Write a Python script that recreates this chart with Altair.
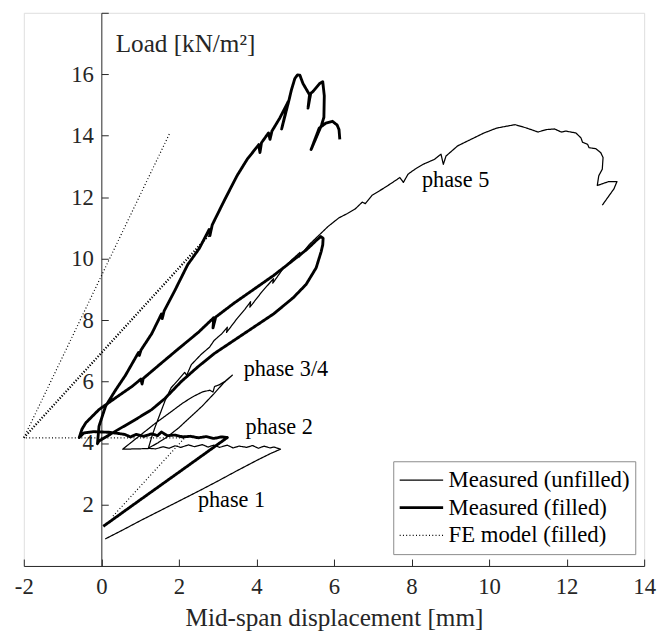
import altair as alt
import pandas as pd

# ---------------- data (x: mid-span displacement [mm], y: load [kN/m2]) ----------------
series_names = ["Measured (unfilled)", "Measured (filled)", "FE model (filled)"]

unf_x = [0.10, 0.55, 1.0, 1.5, 2.0, 2.5, 3.0, 3.5, 4.0, 4.35, 4.62,
         4.45, 4.35, 4.2, 4.05, 3.9, 3.75, 3.55, 3.4, 3.25, 3.05, 2.9, 2.75, 2.6, 2.4, 2.25, 2.05, 1.9, 1.75, 1.6, 1.4, 1.21,
         1.45, 1.7, 2.0, 2.3, 2.6, 2.9, 3.15, 3.38,
         3.2, 3.05, 2.92, 2.88, 2.8, 2.6, 2.35, 2.1, 1.8, 1.4, 1.0, 0.75, 0.55,
         0.9, 1.21,
         1.3, 1.38, 1.5, 1.65, 1.8, 1.98, 2.15, 2.2, 2.32, 2.57, 2.79, 2.91, 3.1, 3.25, 3.23, 3.5, 3.7, 3.85, 3.83,
         4.14, 4.44, 4.42, 4.69, 4.9, 5.12, 5.1, 5.37, 5.62, 5.85, 6.13, 6.35,
         6.55, 6.73, 6.81, 6.98, 7.28, 7.5, 7.70, 7.79, 7.91, 8.1, 8.30, 8.59, 8.76, 8.82, 8.89, 9.19, 9.53, 9.87,
         10.2, 10.67, 10.97, 11.26, 11.48, 11.69, 11.86, 11.98, 12.24, 12.37, 12.41, 12.54, 12.58, 12.75, 12.88,
         12.94, 12.92, 12.83, 12.79, 13.09, 13.3, 13.22, 12.92]
unf_y = [0.88, 1.17, 1.47, 1.79, 2.11, 2.43, 2.76, 3.1, 3.43, 3.65, 3.8,
         3.87, 3.84, 3.9, 3.83, 3.92, 3.86, 3.9, 3.84, 3.93, 3.86, 3.93, 3.87, 3.95, 3.88, 3.94, 3.86, 3.91, 3.83, 3.88, 3.81, 3.83,
         4.0, 4.2, 4.5, 4.85, 5.2, 5.6, 5.95, 6.21,
         6.02, 5.9, 5.84, 5.66, 5.72, 5.66, 5.5, 5.3, 5.02, 4.65, 4.25, 4.0, 3.8,
         3.81, 3.82,
         4.2, 4.5, 4.9, 5.4, 5.8, 6.05, 6.3, 6.2, 6.55, 6.88, 7.12, 7.34, 7.55, 7.77, 7.6, 8.05, 8.35, 8.6, 8.42,
         8.92, 9.35, 9.2, 9.68, 9.95, 10.2, 10.05, 10.47, 10.77, 11.05, 11.33, 11.47,
         11.62, 11.84, 11.79, 12.06, 12.29, 12.47, 12.64, 12.48, 12.75, 12.92, 13.07, 13.23, 13.4, 13.07, 13.34, 13.67, 13.88, 14.09,
         14.25, 14.36, 14.25, 14.12, 14.2, 14.22, 14.12, 14.15, 14.09, 13.93, 13.79, 13.72, 13.61, 13.58, 13.45,
         13.29, 12.91, 12.7, 12.38, 12.51, 12.51, 12.27, 11.74]

fil_x = [0.05, 1.0, 2.0, 3.25,
         3.1, 2.9, 2.7, 2.5, 2.3, 2.1, 1.9, 1.7, 1.55, 1.45, 1.3, 1.1, 0.9, 0.75, 0.6, 0.4, 0.2, 0.0, -0.2, -0.45, -0.57,
         -0.5, -0.4, -0.06, 0.4, 0.8, 1.02, 1.05, 1.08, 1.5, 2.0, 2.5, 2.9, 2.88, 2.95, 3.42, 3.93, 4.44, 4.95, 5.3, 5.55, 5.66, 5.72,
         5.71, 5.67, 5.54, 5.28, 4.95, 4.44, 3.93, 3.42, 2.91, 2.49, 2.06, 1.64, 1.3, 0.9, 0.45, -0.06, -0.1,
         -0.06, 0.11, 0.37, 0.62, 0.96, 0.98, 1.02, 1.3, 1.55, 1.57, 1.62, 1.89, 2.23, 2.53, 2.78, 2.8, 2.86, 3.17, 3.5, 3.76,
         4.06, 4.09, 4.13, 4.31, 4.35, 4.4, 4.6, 4.82, 4.65, 4.84, 4.9, 4.99, 5.06, 5.12, 5.2, 5.37, 5.33, 5.4, 5.46, 5.63,
         5.71, 5.75, 5.74, 5.68, 5.41, 5.62, 5.79, 5.96, 6.08, 6.13, 6.15]
fil_y = [1.29, 2.15, 3.05, 4.18,
         4.2, 4.15, 4.21, 4.17, 4.22, 4.2, 4.26, 4.24, 4.36, 4.24, 4.3, 4.22, 4.28, 4.2, 4.28, 4.32, 4.35, 4.36, 4.37, 4.33, 4.18,
         4.45, 4.66, 5.09, 5.5, 5.85, 6.08, 5.92, 6.1, 6.55, 7.08, 7.6, 8.08, 7.75, 8.1, 8.55, 9.0, 9.45, 9.95, 10.3, 10.6, 10.72, 10.66,
         10.45, 10.23, 9.7, 9.16, 8.73, 8.2, 7.77, 7.34, 6.91, 6.48, 6.0, 5.45, 5.09, 4.78, 4.45, 4.07, 3.98,
         4.55, 5.2, 5.73, 6.2, 6.95, 6.85, 7.02, 7.56, 8.2, 8.05, 8.3, 8.95, 9.81, 10.34, 10.95, 10.75, 11.1, 11.89, 12.7, 13.23,
         13.71, 13.45, 13.77, 14.09, 13.88, 14.15, 14.57, 15.11, 14.22, 15.16, 15.48, 15.86, 15.98, 15.97, 15.7, 15.33, 14.9, 15.38, 15.44, 15.7,
         15.76, 15.3, 14.6, 14.35, 13.55, 14.25, 14.41, 14.47, 14.35, 14.2, 13.88]

fe1_x = [0.3, 2.15, -2.0]
fe1_y = [1.62, 4.17, 4.17]
fe2_x = [-2.0, 1.77]
fe2_y = [4.17, 14.1]
fe3_x = [-2.0, 2.8]
fe3_y = [4.17, 10.8]

phase_text = ["phase 1", "phase 2", "phase 3/4", "phase 5"]
phase_x = [2.49, 3.72, 3.67, 8.27]
phase_y = [1.93, 4.29, 6.18, 12.32]

x_ticks = [-2, 0, 2, 4, 6, 8, 10, 12, 14]
y_ticks = [2, 4, 6, 8, 10, 12, 14, 16, 18]

# ---------------- tables ----------------
rows = []
def add(xs, ys, series, seg):
    for k, (a, b) in enumerate(zip(xs, ys)):
        rows.append({"x": a, "y": b, "series": series, "seg": seg, "i": k})

add(unf_x, unf_y, series_names[0], "u")
add(fil_x, fil_y, series_names[1], "f")
add(fe1_x, fe1_y, series_names[2], "fe1")
add(fe2_x, fe2_y, series_names[2], "fe2")
df = pd.DataFrame(rows)
df_fe3 = pd.DataFrame({"x": fe3_x, "y": fe3_y, "i": list(range(len(fe3_x)))})
df_txt = pd.DataFrame({"x": phase_x, "y": phase_y, "t": phase_text})

# ---------------- layout ----------------
W, H = 628, 560
XMIN, XMAX = -2, 14
y_axis_offset = -(0 - XMIN) / (XMAX - XMIN) * W
FONT = "Liberation Serif, DejaVu Serif, Times New Roman, serif"
AX = "#262626"

xs = alt.Scale(domain=[XMIN, XMAX], nice=False, zero=False)
ys = alt.Scale(domain=[0, 18], nice=False, zero=False)

xaxis = alt.Axis(values=x_ticks, grid=False, title="Mid-span displacement [mm]",
                 labelExpr="datum.value < 0 ? '-' + abs(datum.value) : '' + datum.value",
                 tickSize=alt.ExprRef(expr="-7"), labelPadding=17, labelFlush=False,
                 domainColor=AX, tickColor=AX, labelColor=AX, titleColor=AX,
                 labelFont=FONT, labelFontSize=23, titleFont=FONT, titleFontSize=25.5,
                 titleFontWeight="normal", titlePadding=7)
yaxis = alt.Axis(values=y_ticks, grid=False, title="Load [kN/m²]", offset=y_axis_offset,
                 labelExpr="datum.value == 18 ? '' : '' + datum.value",
                 tickSize=alt.ExprRef(expr="-7"), labelPadding=15, labelFlush=False,
                 domainColor=AX, tickColor=AX, labelColor=AX, titleColor=AX,
                 labelFont=FONT, labelFontSize=23, titleFont=FONT, titleFontSize=25.5,
                 titleFontWeight="normal", titleAngle=0, titleAlign="left",
                 titleBaseline="alphabetic", titleX=14, titleY=39.5)

leg = alt.Legend(title=None, orient="none", legendX=374, legendY=454,
                 symbolType="stroke", symbolSize=1936, clipHeight=28, rowPadding=0,
                 symbolStrokeColor="black", labelFont=FONT, labelFontSize=23,
                 labelColor="black", labelOffset=4, labelLimit=400, strokeColor="#8a8a8a",
                 fillColor="white", padding=5)

lines = alt.Chart(df).mark_line(color="black", strokeJoin="round").encode(
    x=alt.X("x:Q", scale=xs, axis=xaxis),
    y=alt.Y("y:Q", scale=ys, axis=yaxis),
    detail="seg:N",
    order="i:Q",
    strokeWidth=alt.StrokeWidth("series:N", scale=alt.Scale(type="ordinal", domain=series_names,
                                                          range=[1.25, 2.9, 1.2]), legend=leg),
    strokeDash=alt.StrokeDash("series:N", scale=alt.Scale(domain=series_names,
                                                        range=[[1, 0], [1, 0], [1, 2.3]]), legend=leg),
)

fe_dense = alt.Chart(df_fe3).mark_line(color="black", strokeWidth=2.2, strokeDash=[1.2, 1.8]).encode(
    x=alt.X("x:Q", scale=xs), y=alt.Y("y:Q", scale=ys), order="i:Q")

labels = alt.Chart(df_txt).mark_text(font=FONT, fontSize=22.5, align="left",
                                     baseline="alphabetic", color="black").encode(
    x=alt.X("x:Q", scale=xs), y=alt.Y("y:Q", scale=ys), text="t:N")

chart = alt.layer(fe_dense, lines, labels).properties(
    width=W, height=H,
    padding={"left": 16, "top": 1, "right": 13, "bottom": 64},
    autosize=alt.AutoSizeParams(type="none"),
).configure_view(strokeWidth=0).configure(background="white")

chart.save("out.html", embed_options={"renderer": "svg", "actions": False})
